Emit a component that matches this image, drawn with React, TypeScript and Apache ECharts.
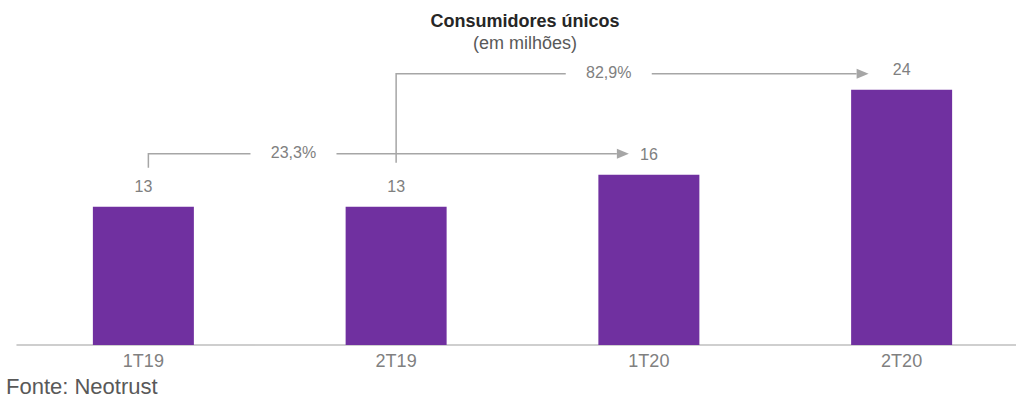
import React, { useEffect, useRef } from "react";
import * as echarts from "echarts";

const categories = ["1T19", "2T19", "1T20", "2T20"];
const values = [13, 13, 16, 24];
const growthLabels = ["23,3%", "82,9%"];
const growthFrom = [0, 1];
const growthTo = [2, 3];

const TITLE = "Consumidores únicos";
const SUBTITLE = "(em milhões)";
const SOURCE = "Fonte: Neotrust";

const PURPLE = "#7030A0";
const GREY = "#a6a6a6";
const LABEL = "#808080";
const FONT = "'Liberation Sans', Arial, sans-serif";

// per-arrow layout tweaks (pixel offsets relative to bar tops)
const arrowStyle = [
  { dxFrom: 5, startUp: 39, lineUp: 21, tipBack: 20, labelT: 0.302 },
  { dxFrom: 0, startUp: 44, lineUp: 16, tipBack: 33, labelT: 0.45 },
];

export default function App() {
  const ref = useRef<HTMLDivElement>(null);
  useEffect(() => {
    if (!ref.current) return;
    const chart = echarts.init(ref.current, null, { renderer: "svg" });
    chart.setOption({
      animation: false,
      title: {
        text: TITLE,
        subtext: SUBTITLE,
        left: 520,
        top: 7,
        textAlign: "center",
        itemGap: 4,
        textStyle: { fontFamily: FONT, fontSize: 18, fontWeight: "bold", color: "#262626" },
        subtextStyle: { fontFamily: FONT, fontSize: 18, color: "#595959" },
      },
      grid: { left: 17, width: 1011, top: 26, bottom: 62, containLabel: false },
      xAxis: {
        type: "category",
        data: categories,
        axisLine: { show: true, lineStyle: { color: "#bfbfbf", width: 1.5 } },
        axisTick: { show: false },
        axisLabel: { color: LABEL, fontFamily: FONT, fontSize: 18, margin: 7 },
      },
      yAxis: {
        type: "value",
        min: 0,
        max: 30,
        show: false,
        splitLine: { show: false },
      },
      series: [
        {
          type: "bar",
          data: values,
          barWidth: 101,
          itemStyle: { color: PURPLE },
          label: {
            show: true,
            position: "top",
            distance: 12,
            color: LABEL,
            fontFamily: FONT,
            fontSize: 16,
          },
        },
      ],
    });

    const px = (i: number) =>
      chart.convertToPixel({ gridIndex: 0 }, [categories[i], values[i]]) as number[];

    const graphics: any[] = [];
    growthLabels.forEach((lab, k) => {
      const s = arrowStyle[k];
      const a = px(growthFrom[k]);
      const b = px(growthTo[k]);
      const x0 = a[0] + s.dxFrom;
      const y0 = a[1] - s.startUp;
      const y1 = b[1] - s.lineUp;
      const tip = b[0] - s.tipBack;
      const headLen = 12;
      const base = tip - headLen;
      const lx = x0 + (tip - x0) * s.labelT;
      const gap = 43;
      const ls = { stroke: GREY, lineWidth: 1.5 };
      graphics.push({
        type: "polyline",
        shape: { points: [[x0, y0], [x0, y1], [lx - gap, y1]] },
        style: { ...ls, fill: null },
      });
      graphics.push({
        type: "line",
        shape: { x1: lx + gap, y1: y1, x2: base, y2: y1 },
        style: ls,
      });
      graphics.push({
        type: "polygon",
        shape: { points: [[base, y1 - 5], [tip, y1], [base, y1 + 5]] },
        style: { fill: GREY },
      });
      graphics.push({
        type: "text",
        x: lx,
        y: y1 - 1,
        style: {
          text: lab,
          fill: LABEL,
          fontFamily: FONT,
          fontSize: 16,
          align: "center",
          verticalAlign: "middle",
        },
      });
    });
    graphics.push({
      type: "text",
      x: 6,
      y: 386,
      style: {
        text: SOURCE,
        fill: "#595959",
        fontFamily: FONT,
        fontSize: 22,
        align: "left",
        verticalAlign: "middle",
      },
    });
    chart.setOption({ graphic: graphics });

    return () => chart.dispose();
  }, []);

  return (
    <div
      style={{
        position: "absolute",
        left: 0,
        top: 0,
        width: 1016,
        height: 407,
        overflow: "hidden",
        background: "#fff",
      }}
    >
      <div ref={ref} style={{ width: 1030, height: 407 }} />
    </div>
  );
}
